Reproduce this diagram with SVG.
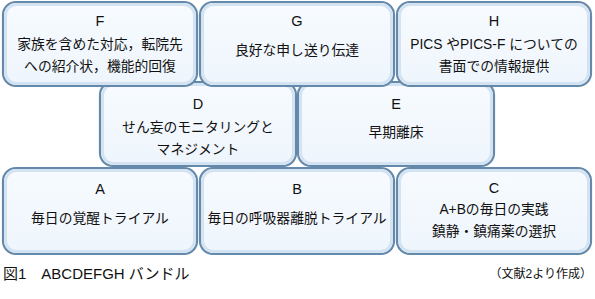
<svg xmlns="http://www.w3.org/2000/svg" width="595" height="299" viewBox="0 0 595 299">
<style>
.box{fill:url(#g);stroke:#6489aa;stroke-width:2.2}
.inner{fill:none;stroke:#d3e3f1;stroke-width:3}
text{font-family:"Liberation Sans","Noto Sans CJK JP",sans-serif;font-size:13.8px;fill:#111;text-anchor:middle;dominant-baseline:central}
.lt{font-size:14.5px}
.cap{font-size:15px;text-anchor:start}
.src{font-size:12px;text-anchor:end}
</style>
<defs>
<linearGradient id="g" x1="0" y1="0" x2="0" y2="1">
<stop offset="0" stop-color="#f7fbff"/>
<stop offset="1" stop-color="#eef5fc"/>
</linearGradient>
</defs>
<rect width="595" height="299" fill="#fff"/>
<g id="node-D"><rect class="box" x="100" y="82" width="196" height="84" rx="13"/><rect class="inner" x="102.5" y="84.5" width="191" height="79" rx="11"/>
<text class="lt" x="198" y="104">D</text><text x="198" y="127">せん妄のモニタリングと</text><text x="198" y="149">マネジメント</text></g>
<g id="node-E"><rect class="box" x="298" y="82" width="196" height="84" rx="13"/><rect class="inner" x="300.5" y="84.5" width="191" height="79" rx="11"/>
<text class="lt" x="396" y="104">E</text><text x="396" y="132">早期離床</text></g>
<g id="node-F"><rect class="box" x="3" y="2" width="194" height="84" rx="13"/><rect class="inner" x="5.5" y="4.5" width="189" height="79" rx="11"/>
<text class="lt" x="100" y="21">F</text><text x="100" y="44">家族を含めた対応，転院先</text><text x="100" y="66">への紹介状，機能的回復</text></g>
<g id="node-G"><rect class="box" x="200" y="2" width="194" height="84" rx="13"/><rect class="inner" x="202.5" y="4.5" width="189" height="79" rx="11"/>
<text class="lt" x="297" y="21">G</text><text x="297" y="50">良好な申し送り伝達</text></g>
<g id="node-H"><rect class="box" x="397" y="2" width="194" height="84" rx="13"/><rect class="inner" x="399.5" y="4.5" width="189" height="79" rx="11"/>
<text class="lt" x="494" y="21">H</text><text x="494" y="44">PICS やPICS-F についての</text><text x="494" y="66">書面での情報提供</text></g>
<g id="node-A"><rect class="box" x="3" y="168" width="194" height="86" rx="13"/><rect class="inner" x="5.5" y="170.5" width="189" height="81" rx="11"/>
<text class="lt" x="100" y="189">A</text><text x="100" y="218">毎日の覚醒トライアル</text></g>
<g id="node-B"><rect class="box" x="200" y="168" width="194" height="86" rx="13"/><rect class="inner" x="202.5" y="170.5" width="189" height="81" rx="11"/>
<text class="lt" x="297" y="189">B</text><text x="297" y="218">毎日の呼吸器離脱トライアル</text></g>
<g id="node-C"><rect class="box" x="397" y="168" width="194" height="86" rx="13"/><rect class="inner" x="399.5" y="170.5" width="189" height="81" rx="11"/>
<text class="lt" x="494" y="188">C</text><text x="494" y="209">A+Bの毎日の実践</text><text x="494" y="231">鎮静・鎮痛薬の選択</text></g>
<g id="connectors"></g>
<text class="cap" x="3" y="273">図1　ABCDEFGH バンドル</text>
<text class="src" x="592" y="274">（文献2より作成）</text>
</svg>
